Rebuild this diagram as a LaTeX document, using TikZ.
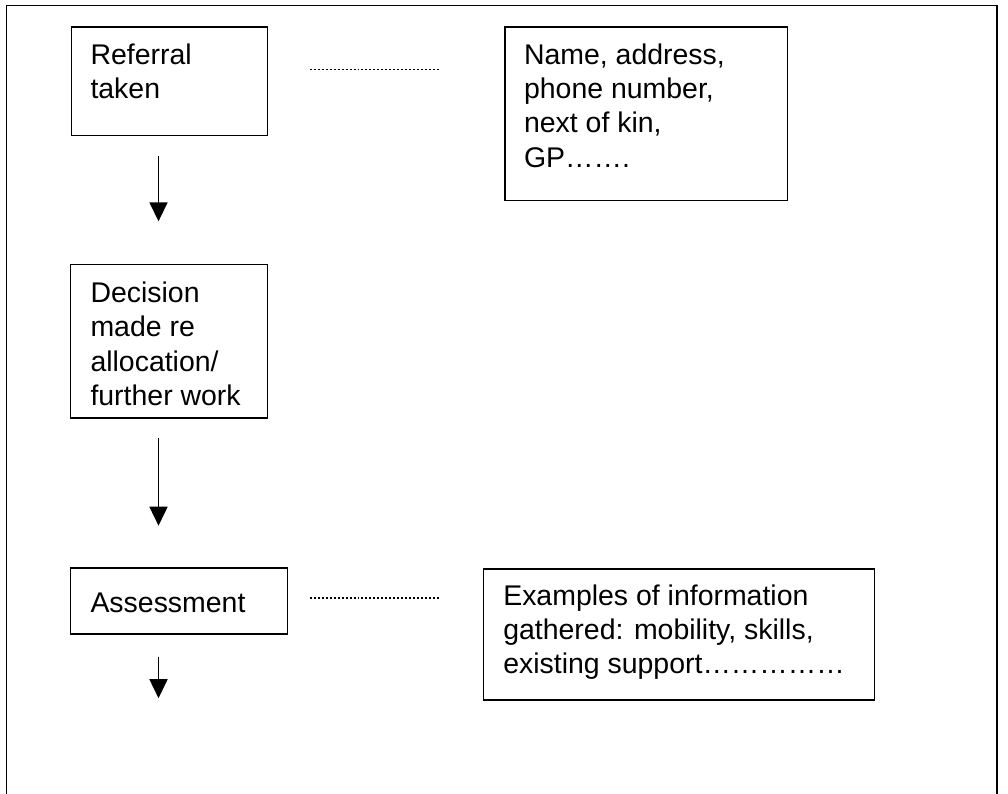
\documentclass[tikz,border=0pt]{standalone}
\usepackage{fontspec}
\setmainfont{Liberation Sans}
\usetikzlibrary{arrows.meta}
\begin{document}
\begin{tikzpicture}[x=1pt,y=-1pt,
  every node/.style={inner sep=0pt},
  stepbox/.style={draw,line width=1.6pt},
  % multi-line texts are placed by the baseline of their last line
  txt/.style={anchor=base west,align=left,font=\fontsize{31.5}{38}\selectfont},
  flow/.style={line width=1.5pt,-{Triangle[length=21pt,width=20pt]}},
  link/.style={line width=1.7pt,dash pattern=on 2.2pt off 2.2pt}]
\useasboundingbox (0,0) rectangle (1116,879);
% page frame, open at the bottom
\draw[line width=1.6pt] (7.5,879) -- (7.5,6) -- (1104,6) -- (1104,879);

% boxes and their texts
\draw[stepbox] (79,30) rectangle (296,150);
\node[txt] (ref) at (100,109) {Referral\\taken};
\draw[stepbox] (559,30) rectangle (872,222);
\node[txt] (name) at (580,185) {Name, address,\\phone number,\\next of kin,\\GP…….};
\draw[stepbox] (78,293) rectangle (296,463);
\node[txt] (dec) at (100,449) {Decision\\made re\\allocation/\\further work};
\draw[stepbox] (78,629) rectangle (318,702);
\node[txt] (ass) at (100,678) {Assessment};
\draw[stepbox] (535,630) rectangle (968,775);
\node[txt] (ex) at (557,746) {Examples of information\\gathered: mobility, skills,\\existing support……………};

% arrows down the left column
\coordinate (a1s) at (175.5,173); \coordinate (a1e) at (175.5,245);
\coordinate (a2s) at (175.5,485); \coordinate (a2e) at (175.5,582);
\coordinate (a3s) at (175.5,727); \coordinate (a3e) at (175.5,773);
\draw[flow] (a1s) -- (a1e);
\draw[flow] (a2s) -- (a2e);
\draw[flow] (a3s) -- (a3e);

% dotted links to the side notes
\coordinate (d1s) at (343,77); \coordinate (d1e) at (488,77);
\coordinate (d2s) at (343,662); \coordinate (d2e) at (488,662);
\draw[link] (d1s) -- (d1e);
\draw[link] (d2s) -- (d2e);
\end{tikzpicture}
\end{document}
